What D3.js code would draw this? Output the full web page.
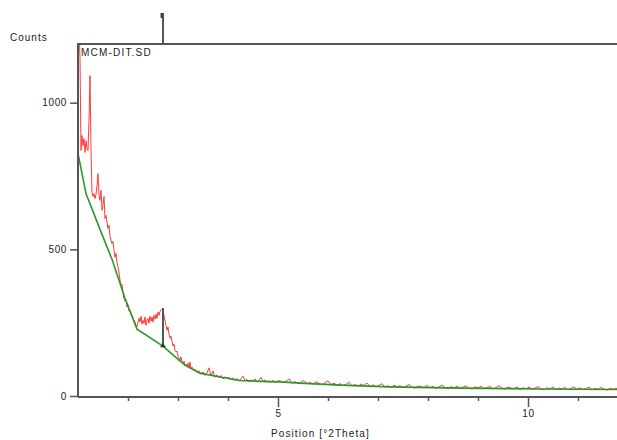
<!DOCTYPE html>
<html>
<meta charset="utf-8" />
<script src="https://d3js.org/d3.v7.min.js"></script>
<style>
  body { margin: 0; background: #fff; }
  text { font-family: "Liberation Sans", Arial, sans-serif; fill: #222; }
</style>
<body>
<svg id="chart" width="617" height="440"></svg>
<script>
// measured scan, split in segments: start angle, step, counts
const scanA = { start: 1.00, step: 0.02, counts: [
  1081, 1280, 1150, 837, 888, 854, 877, 830, 870, 843,
  837, 939, 1092, 837, 694, 680, 690, 673, 687, 718,
  758, 684, 667, 701, 633, 650, 680, 605, 616, 592,
  571, 582, 544, 531, 520, 527, 497, 473, 486, 456,
  439, 422, 395, 378, 381, 350, 333, 323, 327, 303,
  310, 289, 292, 279, 275, 265, 258, 252, 238, 235,
  252, 265, 252, 272, 245, 258, 248, 269, 241, 258,
  265, 248, 272, 255, 269, 252, 275, 262, 279, 265,
  286, 275, 289, 292, 296, 299, 272, 258, 241, 224,
  235, 211, 197, 204, 187, 170, 177, 156, 150, 153,
  136, 129, 122, 133, 116, 112, 119, 102, 109, 99,
  112, 95, 116, 92, 99, 88
]};
const scanB = { start: 3.34, step: 0.04, counts: [
  92, 80, 86, 74, 82, 70, 79, 96, 68, 85,
  64, 72, 62, 70, 58, 66, 60, 64, 55, 62,
  52, 60, 50, 58, 68, 52, 57, 48, 55, 50,
  58, 47, 54, 64, 49, 55, 46, 52, 47, 54,
  45, 51
]};
const scanC = { start: 5.04, step: 0.06, counts: [
  52, 45, 50, 58, 44, 49, 42, 47, 53, 41,
  46, 40, 49, 43, 38, 45, 52, 39, 44, 37,
  42, 35, 40, 47, 34, 39, 33, 41, 36, 44,
  32, 38, 31, 36, 42, 30, 35, 29, 37, 32,
  35, 28, 33, 39, 30, 27, 34, 31, 29, 36,
  28, 33, 26, 31, 37, 29, 25, 32, 28, 34,
  26, 30, 35, 27, 24, 31, 28, 33, 25, 29,
  32, 24, 28, 36, 26, 23, 30, 27, 25, 31,
  22, 28, 25, 30, 23, 27, 32, 24, 21, 28,
  25, 30, 22, 27, 24, 29, 21, 26, 31, 23,
  28, 22, 25, 30, 21, 26, 23, 29, 24, 20,
  27, 23, 26, 22, 25
]};

// background curve (angle, counts)
const bgPos =    [1.00, 1.16, 1.44, 1.68, 1.94, 2.18, 2.70, 3.02, 3.14, 3.44, 3.84, 4.24, 4.64, 5.04, 5.44, 6.24, 7.24, 8.64, 10.24, 11.90];
const bgCounts = [827, 690, 568, 466, 333, 228, 170, 122, 105, 78, 65, 53, 50, 48, 44, 37, 31, 27, 24, 22];

// marked peak
const peakPos = 2.70, peakTop = 299, peakBase = 170;

const yTicks = [0, 500, 1000];
const xMajor = [5, 10];
const xMinor = [2, 3, 4, 6, 7, 8, 9, 11];

const svg = d3.select("#chart");
const pL = 78, pT = 44, pR = 618, pB = 396;

const x = d3.scaleLinear().domain([1, 11.8]).range([pL, pR]);
const y = d3.scaleLinear().domain([0, 1200]).range([pB, pT]);

let scan = [];
[scanA, scanB, scanC].forEach(s => {
  s.counts.forEach((c, i) => scan.push([s.start + i * s.step, c]));
});
const bg = bgPos.map((p, i) => [p, bgCounts[i]]);

svg.append("clipPath").attr("id", "plot")
  .append("rect").attr("x", pL).attr("y", pT)
  .attr("width", pR - pL).attr("height", pB - pT + 1);

const line = d3.line().x(d => x(d[0])).y(d => y(d[1]));

const g = svg.append("g").attr("clip-path", "url(#plot)");
g.append("path").datum(scan).attr("d", line)
  .attr("fill", "none").attr("stroke", "#ff3a3a").attr("stroke-width", 1);
g.append("path").datum(bg).attr("d", line)
  .attr("fill", "none").attr("stroke", "#2a992a").attr("stroke-width", 1.6);

// peak bar
g.append("line")
  .attr("x1", x(peakPos)).attr("x2", x(peakPos))
  .attr("y1", y(peakTop)).attr("y2", y(peakBase))
  .attr("stroke", "#555").attr("stroke-width", 2);
g.append("path")
  .attr("d", `M${x(peakPos) - 3},${y(peakBase) + 1}L${x(peakPos) + 3},${y(peakBase) + 1}L${x(peakPos)},${y(peakBase) - 3}Z`)
  .attr("fill", "#333");

// frame
svg.append("path")
  .attr("d", `M${pL},${pB + 1}V${pT}H${617}M${pL},${pB + 1}H${617}`)
  .attr("fill", "none").attr("stroke", "#555").attr("stroke-width", 2);

// top peak marker
svg.append("line")
  .attr("x1", x(peakPos)).attr("x2", x(peakPos))
  .attr("y1", pT).attr("y2", 13)
  .attr("stroke", "#555").attr("stroke-width", 2);
svg.append("rect")
  .attr("x", x(peakPos) - 2.5).attr("y", 13).attr("width", 2.5).attr("height", 5)
  .attr("fill", "#444");

// axes
const yAxis = svg.append("g").attr("transform", `translate(${pL},0)`)
  .call(d3.axisLeft(y).tickValues(yTicks).tickSize(8).tickPadding(3).tickFormat(d3.format("d")));
const xAxis = svg.append("g").attr("transform", `translate(0,${pB + 1})`)
  .call(d3.axisBottom(x).tickValues(xMajor).tickSize(10).tickPadding(3));
const xMin = svg.append("g").attr("transform", `translate(0,${pB + 1})`)
  .call(d3.axisBottom(x).tickValues(xMinor).tickSize(4).tickFormat(""));

[yAxis, xAxis, xMin].forEach(a => {
  a.select(".domain").remove();
  a.selectAll(".tick line").attr("stroke", "#555").attr("stroke-width", 1.5);
  a.selectAll("text").attr("font-size", 10).attr("fill", "#222")
    .attr("font-family", "Liberation Sans, Arial, sans-serif")
    .style("letter-spacing", "0.6px");
});

svg.append("text").attr("x", 10).attr("y", 41)
  .attr("font-size", 10).style("letter-spacing", "1px").text("Counts");
svg.append("text").attr("x", 81).attr("y", 56)
  .attr("font-size", 10).style("letter-spacing", "1.2px").text("MCM-DIT.SD");
svg.append("text").attr("x", 271).attr("y", 437)
  .attr("font-size", 10).style("letter-spacing", "1.1px").text("Position [°2Theta]");
</script>
</body>
</html>
